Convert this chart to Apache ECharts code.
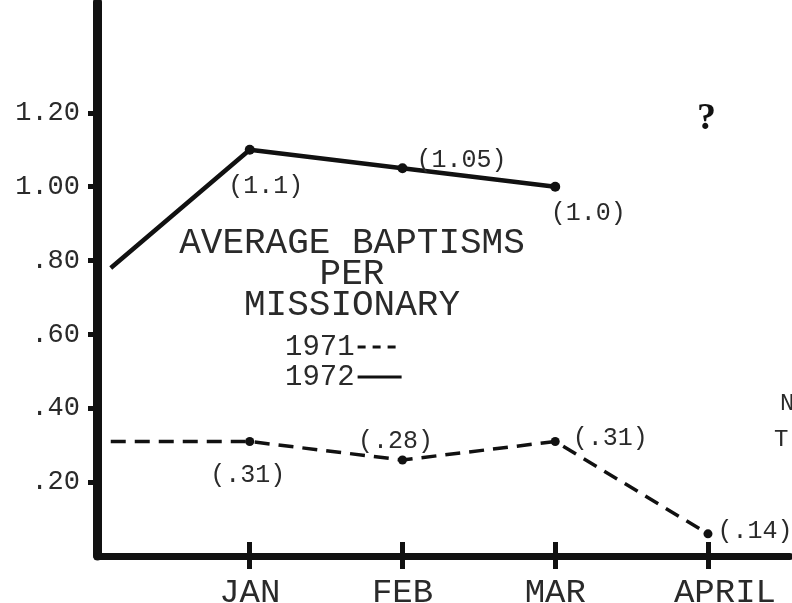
<!DOCTYPE html>
<html>
<head>
<meta charset="utf-8">
<script src="https://cdn.jsdelivr.net/npm/echarts@6/dist/echarts.min.js"></script>
<style>
  html, body { margin: 0; padding: 0; background: #ffffff; }
  #chart { width: 792px; height: 603px; }
</style>
</head>
<body>
<div id="chart"></div>
<script>
// ---- data ----
const monthLabels = ['JAN', 'FEB', 'MAR', 'APRIL'];
const monthTickValues = [1, 2, 3, 4];
const yTickValues = [0.2, 0.4, 0.6, 0.8, 1.0, 1.2];
const yTickLabels = ['.20', '.40', '.60', '.80', '1.00', '1.20'];

// x positions: start of lines (left edge), JAN, FEB, MAR, APRIL
const x1972 = [0.09, 1, 2, 3];
const v1972 = [0.78, 1.10, 1.05, 1.00];
const lab1972 = ['', '(1.1)', '(1.05)', '(1.0)'];

const x1971 = [0.09, 1, 2, 3, 4];
const v1971 = [0.31, 0.31, 0.26, 0.31, 0.06];
const lab1971 = ['', '(.31)', '(.28)', '(.31)', '(.14)'];

const titleLines = ['AVERAGE BAPTISMS', 'PER', 'MISSIONARY'];

// ---- styling (kept separate from data) ----
const FONT = 'Liberation Mono';
const INK = '#111';
const TEXT = '#2a2a2a';
const off1972 = [[0, 0], [16, 37], [59, -8], [33, 27]];
const off1971 = [[0, 0], [-2, 34], [-7, -19], [55, -3], [47, -2]];

function buildData(xs, vs, labs, offs) {
  return xs.map((x, i) => ({
    value: [x, vs[i]],
    symbol: labs[i] ? 'circle' : 'none',
    label: {
      show: !!labs[i],
      formatter: labs[i],
      position: 'inside',
      offset: offs[i],
      fontFamily: FONT,
      fontSize: 25,
      color: TEXT
    }
  }));
}

const chart = echarts.init(document.getElementById('chart'), null, { renderer: 'canvas' });

const option = {
  backgroundColor: '#ffffff',
  animation: false,
  title: {
    text: titleLines.join('\n'),
    left: 347,
    top: 223,
    textAlign: 'center',
    textStyle: {
      fontFamily: FONT,
      fontWeight: 'normal',
      fontSize: 36,
      lineHeight: 31,
      color: TEXT
    }
  },
  legend: {
    orient: 'vertical',
    left: 280,
    top: 327,
    align: 'right',
    itemWidth: 44,
    itemHeight: 2,
    itemGap: 0,
    itemStyle: { opacity: 0 },
    textStyle: { fontFamily: FONT, fontSize: 29, lineHeight: 30, color: TEXT, padding: [0, -2, 0, 0] },
    data: [
      { name: '1971', lineStyle: { type: [8, 7], width: 3 } },
      { name: '1972', lineStyle: { width: 3 } }
    ]
  },
  grid: {
    left: 97,
    right: 2,
    top: 2,
    bottom: 47,
    outerBoundsMode: 'none',
    containLabel: false
  },
  xAxis: [
    {
      type: 'value',
      min: 0,
      max: 4.537,
      interval: 1,
      splitLine: { show: false },
      axisLine: { show: true, onZero: false, lineStyle: { color: INK, width: 7 } },
      axisTick: { show: true, customValues: monthTickValues, length: 13, inside: false, lineStyle: { color: INK, width: 5 } },
      axisLabel: {
        show: true,
        customValues: monthTickValues,
        formatter: (v) => {
          const i = Math.round(v) - 1;
          return i === 3 ? '{shift|' + monthLabels[i] + '}' : (monthLabels[i] || '');
        },
        rich: { shift: { fontFamily: FONT, fontSize: 34, color: TEXT, padding: [0, 0, 0, 34] } },
        margin: 20,
        fontFamily: FONT,
        fontSize: 34,
        color: TEXT
      }
    },
    {
      type: 'value',
      min: 0,
      max: 4.537,
      interval: 1,
      position: 'bottom',
      splitLine: { show: false },
      axisLine: { show: false },
      axisTick: { show: true, customValues: monthTickValues, length: 14, inside: true, lineStyle: { color: INK, width: 5 } },
      axisLabel: { show: false }
    }
  ],
  yAxis: {
    type: 'value',
    min: 0,
    max: 1.5,
    splitLine: { show: false },
    axisLine: { show: true, onZero: false, lineStyle: { color: INK, width: 9 } },
    axisTick: { show: true, customValues: yTickValues, length: 9, lineStyle: { color: INK, width: 5 } },
    axisLabel: {
      show: true,
      customValues: yTickValues,
      formatter: (v) => {
        const i = yTickValues.findIndex(t => Math.abs(t - v) < 1e-6);
        return i >= 0 ? yTickLabels[i] : '';
      },
      margin: 17,
      fontFamily: FONT,
      fontSize: 27,
      color: TEXT
    }
  },
  series: [
    {
      name: '1971',
      type: 'line',
      xAxisIndex: 0,
      data: buildData(x1971, v1971, lab1971, off1971),
      symbolSize: 9,
      itemStyle: { color: INK },
      lineStyle: { color: INK, width: 3.5, type: [15, 9] },
      z: 3
    },
    {
      name: '1972',
      type: 'line',
      xAxisIndex: 0,
      data: buildData(x1972, v1972, lab1972, off1972),
      symbolSize: 10,
      itemStyle: { color: INK },
      lineStyle: { color: INK, width: 4.5, type: 'solid' },
      z: 3
    }
  ],
  graphic: [
    {
      type: 'text',
      left: 697,
      top: 100,
      style: { text: '?', fontFamily: 'Liberation Serif', fontWeight: 'bold', fontSize: 38, fill: '#111' }
    },
    {
      type: 'text',
      left: 780,
      top: 392,
      style: { text: 'N', fontFamily: FONT, fontSize: 24, fill: TEXT }
    },
    {
      type: 'text',
      left: 774,
      top: 428,
      style: { text: 'T', fontFamily: FONT, fontSize: 24, fill: TEXT }
    }
  ]
};

chart.setOption(option);
</script>
</body>
</html>
